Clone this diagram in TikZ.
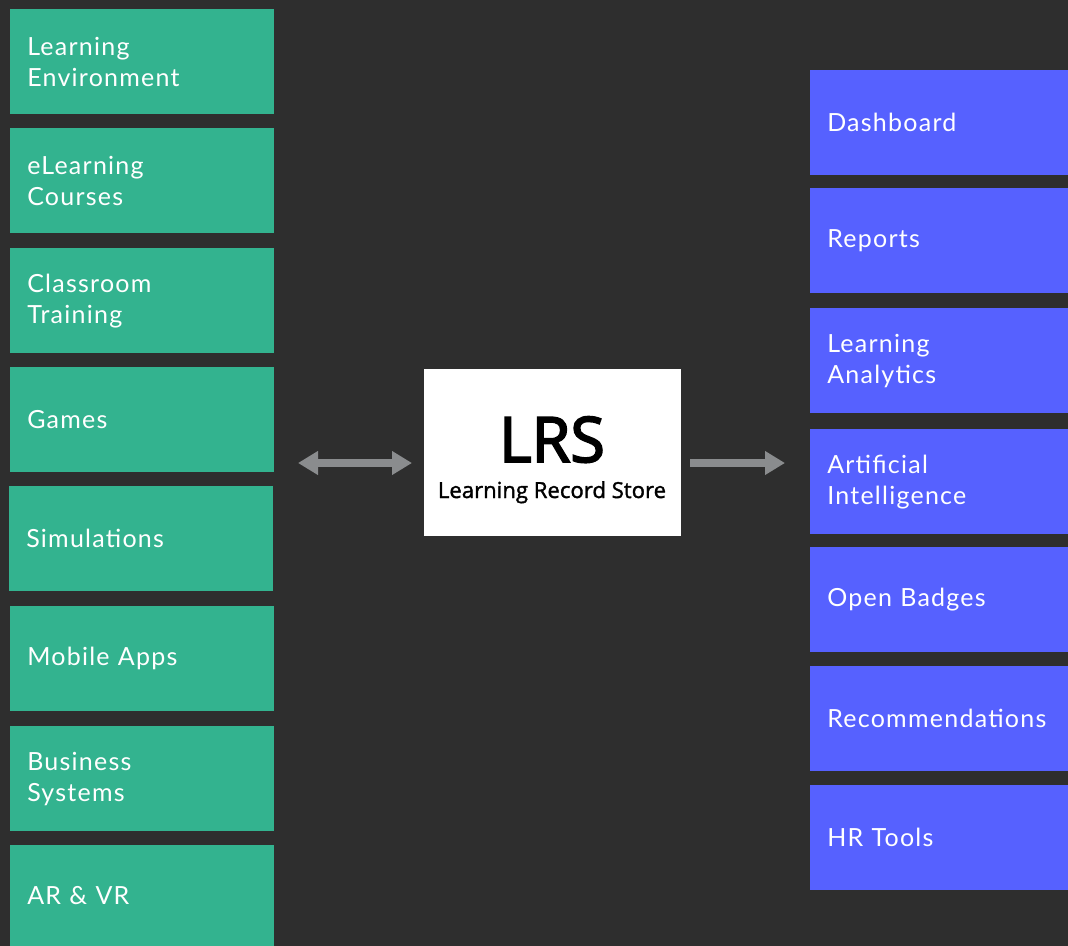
\documentclass[tikz,border=0pt]{standalone}
\usepackage{fontspec}
\setmainfont[LetterSpace=5]{Lato}
\newfontfamily\lrsfont[FakeBold=3]{Open Sans}
\newfontfamily\lrssub[FakeBold=1.5]{Open Sans}
\usetikzlibrary{arrows.meta}
\definecolor{bgc}{HTML}{2E2E2E}
\definecolor{grn}{HTML}{33B38F}
\definecolor{blu}{HTML}{5661FF}
\definecolor{arr}{HTML}{8A8C8E}
\begin{document}
\begin{tikzpicture}[x=0.75pt,y=-0.75pt,
  leftbox/.style={fill=grn, text=white, anchor=north west, inner xsep=12.75pt, inner ysep=0pt,
    text width=172.5pt, minimum width=198pt, minimum height=78.75pt, align=left,
    font=\fontsize{18.75}{23.25}\selectfont},
  rightbox/.style={leftbox, fill=blu, text width=168pt, minimum width=193.5pt},
  conn/.style={draw=arr, line width=6pt, -{Triangle[width=17pt,length=15pt]}}]
\useasboundingbox[fill=bgc] (0,0) rectangle (1068,946);
% left column
\node[leftbox] (l1) at (10,9) {Learning\\Environment};
\node[leftbox] (l2) at (10,128) {eLearning\\Courses};
\node[leftbox] (l3) at (10,248) {Classroom\\Training};
\node[leftbox] (l4) at (10,367) {Games};
\node[leftbox] (l5) at (9,486) {Simulations};
\node[leftbox] (l6) at (10,606) {Mobile Apps};
\node[leftbox] (l7) at (10,726) {Business\\Systems};
\node[leftbox, minimum height=75.75pt] (l8) at (10,845) {AR \& VR};
% right column
\node[rightbox] (r1) at (810,70) {Dashboard};
\node[rightbox] (r2) at (810,188) {Reports};
\node[rightbox] (r3) at (810,308) {Learning\\Analytics};
\node[rightbox] (r4) at (810,429) {Artificial\\Intelligence};
\node[rightbox] (r5) at (810,547) {Open Badges};
\node[rightbox] (r6) at (810,666) {Recommendations};
\node[rightbox] (r7) at (810,785) {HR Tools};
% centre
\node[fill=white, anchor=north west, minimum width=192.75pt, minimum height=125.25pt, inner sep=0pt] (lrs) at (424,369) {};
\node[anchor=base, font=\lrsfont\fontsize{47}{47}\selectfont, text=black, inner sep=0pt] (lrst) at (552,462) {LRS};
\node[anchor=base, font=\lrssub\fontsize{16.6}{17}\selectfont, text=black, inner sep=0pt] (lrss) at (552,498) {Learning Record Store};
% arrows
\coordinate (la) at (298,463);
\coordinate (lb) at (412,463);
\coordinate (ra) at (690,463);
\coordinate (rb) at (785,463);
\draw[conn, {Triangle[width=17pt,length=15pt]}-{Triangle[width=17pt,length=15pt]}] (la) -- (lb);
\draw[conn] (ra) -- (rb);
\end{tikzpicture}
\end{document}
